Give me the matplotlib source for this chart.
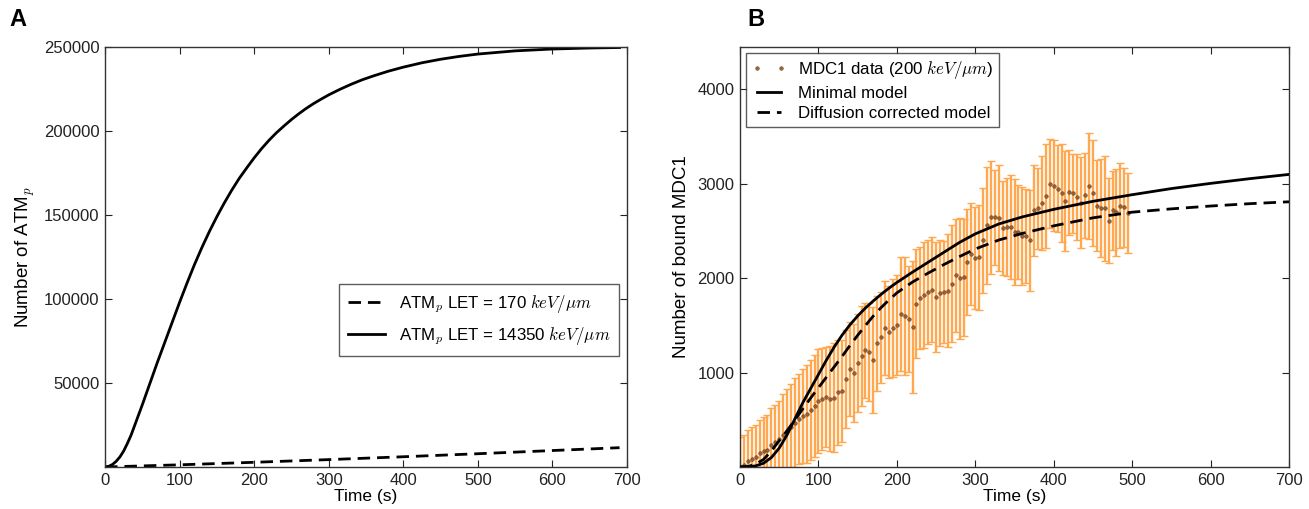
import matplotlib
matplotlib.use("Agg")
import matplotlib.pyplot as plt
import numpy as np

plt.rcParams['font.family'] = ['Liberation Sans', 'DejaVu Sans']
plt.rcParams['mathtext.fontset'] = 'cm'
plt.rcParams['font.size'] = 12

# ---------------- Panel A data ----------------
a_solid_t = [0, 5, 10, 15, 20, 25, 30, 35, 40, 45, 50, 60, 70, 80, 90, 100, 110, 120,
             130, 140, 150, 160, 170, 180, 190, 200, 210, 220, 230, 240, 250, 260, 270,
             280, 290, 300, 315, 330, 345, 360, 380, 400, 425, 450, 475, 500, 550, 600,
             650, 690]
a_solid_v = [0, 400, 1500, 3400, 6000, 9500, 14000, 19000, 25000, 31000, 37000, 49500,
             62000, 74000, 86000, 98000, 109500, 120500, 130700, 140200, 149000, 157200,
             164800, 171800, 178000, 184000, 189500, 194500, 199000, 203000, 206800,
             210300, 213500, 216400, 219000, 221500, 224800, 227800, 230500, 232800,
             235600, 238000, 240600, 242700, 244400, 245800, 247700, 248800, 249400,
             249700]
a_dash_t = [0, 100, 200, 300, 400, 500, 600, 690]
a_dash_v = [0, 1300, 2800, 4400, 6100, 7900, 9800, 11500]
a_xticks = [0, 100, 200, 300, 400, 500, 600, 700]
a_yticks = [50000, 100000, 150000, 200000, 250000]

# ---------------- Panel B data ----------------
b_t = list(range(0, 500, 5))
b_mean = [0, 20, 60, 90, 110, 150, 170, 175, 230, 260,
          300, 340, 380, 420, 470, 510, 540, 565, 600, 650,
          700, 720, 740, 725, 735, 790, 810, 935, 1040, 1000,
          1100, 1180, 1235, 1215, 1130, 1310, 1375, 1470, 1430, 1470,
          1500, 1620, 1600, 1570, 1480, 1730, 1790, 1820, 1850, 1880,
          1800, 1840, 1850, 1870, 1940, 2030, 2000, 2010, 2170, 2260,
          2210, 2220, 2400, 2560, 2645, 2645, 2640, 2530, 2540, 2540,
          2490, 2490, 2450, 2450, 2400, 2720, 2740, 2800, 2870, 3000,
          2980, 2950, 2900, 2820, 2910, 2900, 2860, 2800, 2880, 2980,
          2900, 2770, 2740, 2740, 2610, 2720, 2700, 2770, 2750, 2690]
b_err = [320, 320, 330, 330, 340, 350, 360, 380, 390, 400,
         400, 430, 450, 460, 470, 480, 500, 520, 530, 540,
         550, 540, 530, 560, 580, 560, 540, 520, 500, 520,
         520, 530, 500, 520, 560, 500, 480, 500, 490, 520,
         530, 600, 620, 560, 700, 580, 540, 560, 550, 560,
         580, 560, 540, 600, 620, 600, 640, 620, 560, 540,
         540, 560, 560, 620, 600, 500, 560, 500, 520, 550,
         560, 500, 520, 500, 540, 480, 430, 500, 550, 470,
         480, 460, 520, 530, 450, 420, 460, 480, 450, 560,
         560, 480, 520, 560, 450, 420, 460, 450, 420, 420]

b_solid_t = [0, 10, 20, 30, 40, 50, 60, 70, 80, 90, 100, 110, 120, 130, 140, 150, 160,
             170, 180, 190, 200, 220, 240, 260, 280, 300, 330, 360, 400, 450, 500,
             550, 600, 650, 700]
b_solid_v = [0, 3, 12, 40, 100, 200, 340, 510, 680, 830, 980, 1130, 1270, 1395, 1505,
             1600, 1685, 1760, 1830, 1895, 1955, 2065, 2170, 2275, 2380, 2470, 2575,
             2650, 2730, 2815, 2885, 2950, 3005, 3055, 3100]
b_dash_t = [0, 10, 20, 30, 40, 50, 60, 70, 80, 90, 100, 110, 120, 130, 140, 150, 160,
            170, 180, 190, 200, 220, 240, 260, 280, 300, 330, 360, 400, 450, 500,
            550, 600, 650, 700]
b_dash_v = [0, 5, 30, 80, 170, 280, 385, 500, 615, 730, 840, 950, 1060, 1170, 1285,
            1395, 1500, 1600, 1690, 1770, 1845, 1960, 2055, 2145, 2230, 2310, 2405,
            2475, 2555, 2640, 2700, 2735, 2765, 2790, 2810]
b_xticks = [0, 100, 200, 300, 400, 500, 600, 700]
b_yticks = [1000, 2000, 3000, 4000]

fig = plt.figure(figsize=(13.09, 5.09), dpi=100)
axA = fig.add_axes([105/1309, 42/509, 522/1309, 420/509])
axB = fig.add_axes([740/1309, 42/509, 549/1309, 420/509])

DASH = (4.5, 2.5)

def style(ax):
    ax.tick_params(direction='in', top=True, right=True, length=5, width=0.8,
                   labelsize=12, pad=4, colors='#222222')
    for s in ax.spines.values():
        s.set_linewidth(1.0)
        s.set_color('#333333')

# Panel A
axA.plot(a_dash_t, a_dash_v, color='black', lw=2, linestyle=(0, DASH),
         label=r'ATM$_p$ LET = 170 $keV/\mu m$')
axA.plot(a_solid_t, a_solid_v, color='black', lw=2,
         label=r'ATM$_p$ LET = 14350 $keV/\mu m$')
axA.set_xlim(0, 700)
axA.set_ylim(0, 250000)
axA.set_xticks(a_xticks)
axA.set_yticks(a_yticks)
axA.set_xlabel('Time (s)', fontsize=12.5, labelpad=1)
axA.set_ylabel(r'Number of ATM$_p$', fontsize=13.5, labelpad=5)
style(axA)
legA = axA.legend(loc='center right', bbox_to_anchor=(1.0, 0.35), fancybox=False,
                  edgecolor='#333333', fontsize=12.2, handlelength=2.2,
                  borderpad=0.5, labelspacing=0.6)
legA.get_frame().set_linewidth(1.0)

# Panel B
axB.errorbar(b_t, b_mean, yerr=b_err, fmt='none', ecolor='#FFA850', elinewidth=1.7,
             capsize=3, capthick=1.0, zorder=1)
axB.plot(b_t, b_mean, linestyle='none', marker='o', markersize=2.6,
         markerfacecolor='#8B5A2B', markeredgecolor='#6B3A1B', markeredgewidth=0.4,
         alpha=0.9, zorder=2, label=r'MDC1 data (200 $keV/\mu m$)')
axB.plot(b_solid_t, b_solid_v, color='black', lw=2, zorder=3, label='Minimal model')
axB.plot(b_dash_t, b_dash_v, color='black', lw=2, linestyle=(0, DASH), zorder=3,
         label='Diffusion corrected model')
axB.set_xlim(0, 700)
axB.set_ylim(0, 4450)
axB.set_xticks(b_xticks)
axB.set_yticks(b_yticks)
axB.set_xlabel('Time (s)', fontsize=12.5, labelpad=1)
axB.set_ylabel('Number of bound MDC1', fontsize=13.5, labelpad=5)
style(axB)
legB = axB.legend(loc='upper left', fancybox=False, edgecolor='#333333', fontsize=12.2,
                  handlelength=2.0, numpoints=2, borderaxespad=0.35, borderpad=0.35,
                  labelspacing=0.3, handletextpad=0.7)
legB.get_frame().set_linewidth(1.0)

fig.text(0.007, 0.985, 'A', fontsize=17, fontweight='bold', va='top', ha='left')
fig.text(0.571, 0.985, 'B', fontsize=17, fontweight='bold', va='top', ha='left')

fig.savefig('out.png', dpi=100)
